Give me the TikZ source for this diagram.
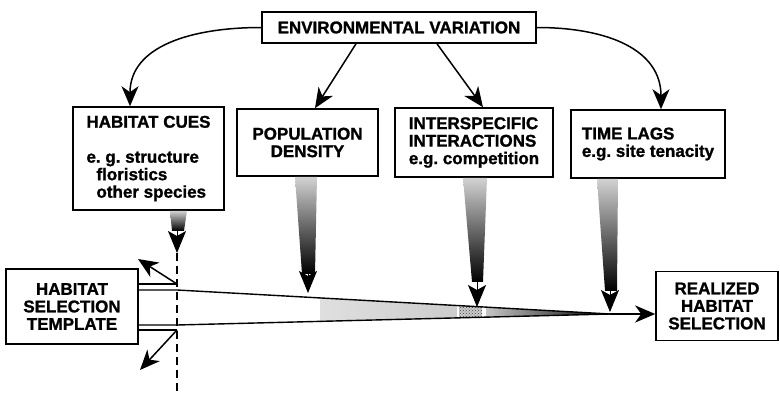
\documentclass[tikz,border=0pt]{standalone}
\usepackage{fontspec}
\setmainfont{Liberation Sans}[BoldFeatures={FakeBold=1.2}]
\usetikzlibrary{arrows.meta, calc, patterns}

\begin{document}
\begin{tikzpicture}[x=1pt, y=-1pt,
    font=\fontsize{17}{17.5}\selectfont\bfseries,
    >={Stealth[length=20pt, width=17pt, inset=6pt]},
    box/.style={rectangle, draw=black, line width=1.6pt, fill=white,
      inner sep=0pt, align=center},
    link/.style={->, line width=1.5pt},
    shaft/.style={top color=gray!35, middle color=black!80, bottom color=black},
    head/.style={-{Stealth[length=22pt, width=18pt, inset=5pt]}, line width=1pt},
    edge/.style={line width=1.4pt},
  ]
    \useasboundingbox (0,0) rectangle (780,396);

    \node[box, minimum width=274pt, minimum height=31pt] (env) at (399,27.5) {ENVIRONMENTAL VARIATION};

    \node[box, align=left, minimum width=151pt, minimum height=103pt] (cues) at (148.5,158.5)
      {HABITAT CUES\\[17.5pt]e.\ g.\ structure\\\hspace*{10pt}floristics\\\hspace*{10pt}other species};
    \node[box, minimum width=141pt, minimum height=67pt] (pop) at (307.5,142.5) {POPULATION\\DENSITY};
    \node[box, align=left, minimum width=158pt, minimum height=69pt] (inter) at (474,142.5)
      {INTERSPECIFIC\\INTERACTIONS\\e.g.\ competition};
    \node[box, align=left, minimum width=154pt, minimum height=68pt] (lags) at (648,144) {TIME LAGS\\e.g.\ site tenacity};

    \node[box, minimum width=132pt, minimum height=75pt] (tmpl) at (72,306.5) {HABITAT\\SELECTION\\TEMPLATE};
    \node[box, minimum width=122pt, minimum height=69pt] (real) at (717,306) {REALIZED\\HABITAT\\SELECTION};

    \draw[link] (env.west) .. controls +(-70,0) and +(0,-60) .. ($(cues.north)+(-18.5,0)$);
    \draw[link] (env.east) .. controls +(70,0) and +(0,-60) .. ($(lags.north)+(13,0)$);
    \draw[link] ($(env.south)+(-43,0)$) -- ($(pop.north)+(7.5,0)$);
    \draw[link] ($(env.south)+(38,0)$) -- ($(inter.north)+(9,0)$);

    \coordinate (bartop) at (177,290);
    \coordinate (barbot) at (177,325);
    \coordinate (barend) at (610,314);
    \coordinate (stubtop) at (177,284);
    \coordinate (stubbot) at (177,330);
    \coordinate (cuetip) at (177,253);
    \coordinate (poptip) at (308,293);
    \coordinate (intertip) at (477,307);
    \coordinate (lagstip) at (610,312);
    \coordinate (dashend) at (177,396);
    \coordinate (spreadup) at (138,259);
    \coordinate (spreaddn) at (140,370);

    \begin{scope}
      \clip (bartop) -- (barend) -- (barbot) -- cycle;
      \shade[left color=gray!25, right color=gray!40] (320,280) rectangle (457,335);
      \fill[gray!40] (459,280) rectangle (482,335);
      \fill[pattern=crosshatch dots, pattern color=black!75] (459,280) rectangle (482,335);
      \shade[left color=gray!45, right color=black] (486,280) rectangle (612,335);
    \end{scope}
    \draw[edge] (tmpl.east |- bartop) -- (bartop) -- (barend);
    \draw[edge] (tmpl.east |- barbot) -- (barbot) -- (barend);
    \draw[edge] (tmpl.east |- stubtop) -- (stubtop);
    \draw[edge] (tmpl.east |- stubbot) -- (stubbot);
    \draw[line width=2.4pt, ->] (barend) -- (barend -| real.west);

    \draw[line width=1.4pt, dash pattern=on 8pt off 5pt] (cuetip) -- (dashend);
    \draw[link] (stubtop) -- (spreadup);
    \draw[link] (stubbot) -- (spreaddn);

    \shade[shaft] ($(cues.south)+(21.5,0)$) -- ($(cues.south)+(38.5,0)$) -- ($(cues.south)+(35.5,20)$) -- ($(cues.south)+(23.5,20)$) -- cycle;
    \draw[head] ($(cues.south)+(28.5,18)$) -- (cuetip);
    \shade[shaft] ($(pop.south)+(-12.5,0)$) -- ($(pop.south)+(9.5,0)$) -- ($(pop.south)+(7.5,97)$) -- ($(pop.south)+(-5.5,97)$) -- cycle;
    \draw[head] ($(pop.south)+(0.5,95)$) -- (poptip);
    \shade[shaft] ($(inter.south)+(-11,0)$) -- ($(inter.south)+(13,0)$) -- ($(inter.south)+(9,104)$) -- ($(inter.south)+(-2,104)$) -- cycle;
    \draw[head] ($(inter.south)+(3,100)$) -- (intertip);
    \shade[shaft] ($(lags.south)+(-51,0)$) -- ($(lags.south)+(-30,0)$) -- ($(lags.south)+(-31,112)$) -- ($(lags.south)+(-43,112)$) -- cycle;
    \draw[head] ($(lags.south)+(-38,110)$) -- (lagstip);
  \end{tikzpicture}
\end{document}
